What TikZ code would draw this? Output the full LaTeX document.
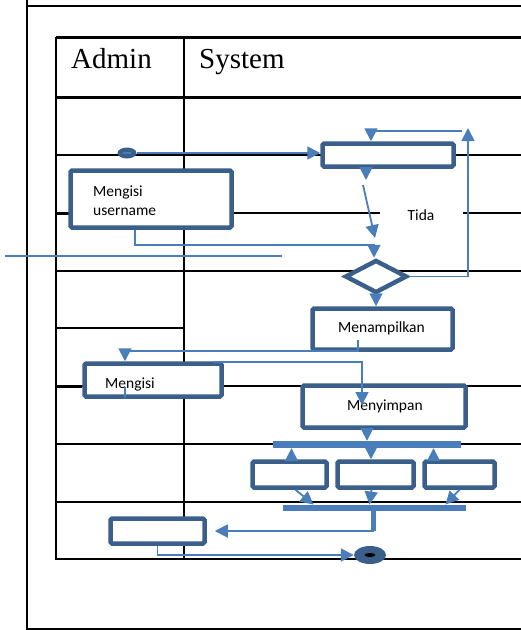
\documentclass[tikz,border=0pt]{standalone}
\usepackage{fontspec}
\setmainfont{Liberation Serif}
\newfontfamily\calib{Carlito}
\usetikzlibrary{arrows.meta,shapes.geometric}
\definecolor{boxblue}{RGB}{58,95,139}
\definecolor{arrowblue}{RGB}{74,126,187}
\begin{document}
\begin{tikzpicture}[x=1pt,y=-1pt,
    act/.style={draw=boxblue, line width=4.5pt, rounded corners=1.5pt, fill=white, inner sep=0},
    lbl/.style={font=\calib\fontsize{15.5}{19}\selectfont, inner sep=0, anchor=base west},
    head/.style={font=\fontsize{29}{32}\selectfont, inner sep=0, anchor=base west},
    flow/.style={draw=arrowblue, line width=1.8pt, -{Triangle[length=13pt,width=13pt]}},
    bar/.style={fill=arrowblue, inner sep=0}]
  \useasboundingbox (0,0) rectangle (521,630);

  % page frame
  \draw[line width=1.6pt] (27,0) -- (27,629) -- (521,629);
  \draw[line width=1.6pt] (27,6) -- (521,6);

  % swimlane table
  \draw[line width=3pt] (56,37) -- (521,37);
  \draw[line width=3pt] (56,97) -- (521,97);
  \draw[line width=1.6pt] (56,37) -- (56,559) -- (521,559);
  \draw[line width=1.6pt] (184,37) -- (184,559);
  \draw[line width=1.6pt] (56,155) -- (521,155);
  \draw[line width=1.6pt] (56,213) -- (521,213);
  \draw[line width=3pt] (56,213) -- (70,213);
  \draw[line width=1.6pt] (56,271) -- (521,271);
  \draw[line width=1.6pt] (56,328) -- (184,328);
  \draw[line width=1.6pt] (56,386) -- (521,386);
  \draw[line width=3pt] (56,386) -- (82,386);
  \draw[line width=1.6pt] (56,444) -- (521,444);
  \draw[line width=1.6pt] (56,502) -- (184,502);
  \draw[line width=2.6pt] (184,502) -- (521,502);
  \node[head] (admin) at (71,68) {Admin};
  \node[head] (system) at (199,68) {System};

  \draw[arrowblue, line width=1.6pt] (5,256) -- (282,256);

  % activities
  \node[ellipse, fill=boxblue, minimum width=19, minimum height=11, inner sep=0] (start) at (127,153) {};
  \draw[arrowblue, line width=1.5pt] ([xshift=-4]start.center) -- ([xshift=4]start.center);
  \node[act, minimum width=131, minimum height=23] (cek) at (388,155) {};
  \node[act, minimum width=161, minimum height=57] (user) at (151,199) {};
  \node[lbl] (usertxt) at (93,196) {Mengisi};
  \node[lbl] (usertxt2) at (93,215) {username};
  \node[diamond, draw=boxblue, line width=4.5pt, fill=white, minimum width=62, minimum height=33, inner sep=0] (dia) at (376,276.5) {};
  \node[lbl, fill=white, anchor=center, minimum width=83, minimum height=8] (tida) at (421,215) {Tida};
  \node[act, minimum width=140, minimum height=41] (tampil) at (382.5,329) {};
  \node[lbl] (tampiltxt) at (338,332) {Menampilkan};
  \node[act, minimum width=137, minimum height=33] (isi) at (153,380) {};
  \node[lbl] (isitxt) at (105,388) {Mengisi};
  \node[act, minimum width=163, minimum height=42] (simpan) at (384,406.5) {};
  \node[lbl] (simpantxt) at (347,410) {Menyimpan};

  % fork and join
  \node[bar, minimum width=188, minimum height=7] (fork) at (367,444.5) {};
  \node[act, minimum width=74, minimum height=26] (p1) at (289.5,474.5) {};
  \node[act, minimum width=76, minimum height=26] (p2) at (375.5,474.5) {};
  \node[act, minimum width=70, minimum height=26] (p3) at (459.5,474.5) {};
  \node[bar, minimum width=183, minimum height=6.5] (join) at (374.5,508) {};
  \node[act, minimum width=94, minimum height=25] (akhir) at (157.5,531) {};
  \node[ellipse, fill=boxblue, minimum width=32, minimum height=18, inner sep=0] (stop) at (370,555) {};
  \fill (stop.center) ellipse [x radius=5.5pt, y radius=2pt];

  % connectors
  \coordinate (cekbawah) at (366,170);
  \coordinate (turun) at (363,185);
  \coordinate (turunend) at (375,238);
  \coordinate (u1) at (135,230);
  \coordinate (looptop) at (468,128);
  \coordinate (back) at (462,131);
  \coordinate (t1) at (358,340);
  \coordinate (i1) at (214,362);
  \coordinate (s1) at (362,405);
  \draw[flow] (start.east) -- (start.east -| cek.west);
  \draw[flow] (cekbawah) -- ++(0,10);
  \draw[flow] (turun) -- (turunend);
  \draw[flow] (u1) |- ([xshift=-2,yshift=13]dia.north) -- ([xshift=-2]dia.north);
  \draw[flow] (dia.east) -| (looptop);
  \draw[flow] (back) -| ([xshift=-17]cek.north);
  \draw[flow] (dia.south) -- (dia.south |- tampil.north);
  \draw[flow] (t1) |- ([xshift=-28,yshift=10]isi.north) -- ([xshift=-28]isi.north);
  \draw[arrowblue, line width=1.5pt] (125,387) -- (125,398);
  \draw[flow] (i1) -| (s1);
  \draw[flow] ([xshift=-17]simpan.south) -- ([xshift=-17]simpan.south |- fork.north);
  \draw[flow] ([xshift=2]p1.north) -- ([xshift=2]p1.north |- fork.south);
  \draw[flow] (fork.south -| 371,0) -- (p2.north -| 371,0);
  \draw[flow] ([xshift=-26]p3.north) -- ([xshift=-26]p3.north |- fork.south);
  \draw[flow] ([xshift=6]p1.south) -- ([xshift=-61]join.north);
  \draw[flow] ([xshift=-4]p2.south) -- ([xshift=-5]join.north);
  \draw[flow] (p3.south) -- ([xshift=71]join.north);
  \draw[arrowblue, line width=5pt] ([xshift=-1]join.south) -- ([xshift=-1]join.south |- akhir.east);
  \draw[flow, shorten >=8pt] ([xshift=-1]join.south |- akhir.east) -- (akhir.east);
  \draw[flow] (akhir.south) |- (stop.west);
\end{tikzpicture}
\end{document}
